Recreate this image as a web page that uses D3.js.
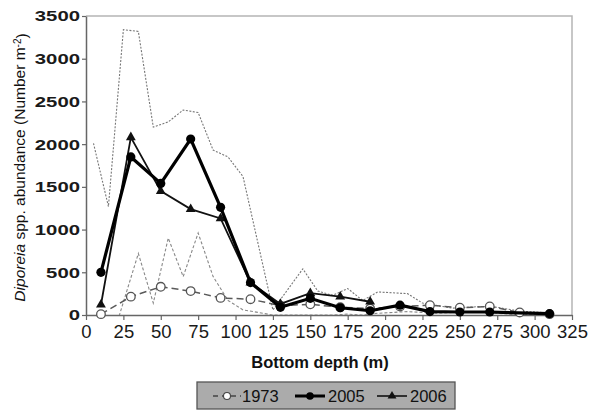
<!DOCTYPE html>
<html>
<head>
<meta charset="utf-8">
<script src="https://cdn.jsdelivr.net/npm/d3@7/dist/d3.min.js"></script>
<style>
  html, body { margin: 0; padding: 0; background: #fff; }
  svg { display: block; font-family: "Liberation Sans", Arial, sans-serif; }
</style>
</head>
<body>
<svg id="chart" width="597" height="411"></svg>
<script>
// Diporeia spp. abundance by bottom depth
const depths1973 = [10, 30, 50, 70, 90, 110, 130, 150, 170, 190, 210, 230, 250, 270, 290, 310];
const values1973 = [10, 215, 330, 280, 200, 185, 110, 125, 90, 75, 100, 115, 85, 100, 30, 10];

const depths2005 = [10, 30, 50, 70, 90, 110, 130, 150, 170, 190, 210, 230, 250, 270, 310];
const values2005 = [500, 1850, 1540, 2060, 1260, 380, 90, 195, 85, 50, 115, 40, 35, 35, 15];

const depths2006 = [10, 30, 50, 70, 90, 110, 130, 150, 170, 190];
const values2006 = [120, 2080, 1450, 1240, 1130, 380, 130, 255, 215, 155];

// Confidence envelope (upper and lower bounds)
const boundDepths = [5, 15, 25, 35, 45, 55, 65, 75, 85, 95, 105, 115, 125, 135, 145, 155, 165, 175, 185, 195, 205, 215, 225, 235, 245, 255, 265, 275, 285, 295, 305];
const upperBound = [2010, 1270, 3340, 3320, 2200, 2260, 2400, 2370, 1930, 1850, 1620, 840, 60, 300, 540, 280, 230, 310, 170, 270, 260, 250, 140, 110, 80, 90, 100, 90, 60, 40, 30];
const lowerBound = [-1500, -420, 150, 720, 140, 900, 450, 960, 450, 170, 60, 30, 0, 0, 0, 0, 0, 10, 0, 20, 30, 40, 30, 20, 30, 40, 30, 20, 10, 5, 0];

const xTicks = [0, 25, 50, 75, 100, 125, 150, 175, 200, 225, 250, 275, 300, 325];
const yTicks = [0, 500, 1000, 1500, 2000, 2500, 3000, 3500];
const legendLabels = ["1973", "2005", "2006"];

const svg = d3.select("#chart");
const plotL = 86, plotR = 572, plotT = 16, plotB = 315;

const x = d3.scaleLinear().domain([0, 325]).range([plotL, plotR]);
const y = d3.scaleLinear().domain([0, 3500]).range([plotB, plotT]);

svg.append("defs").append("clipPath").attr("id", "plot-clip")
  .append("rect").attr("x", plotL).attr("y", plotT).attr("width", plotR - plotL).attr("height", plotB - plotT);

// frame (top and right)
svg.append("path")
  .attr("d", `M${plotL},${plotT}H${plotR}V${plotB}`)
  .attr("fill", "none").attr("stroke", "#b5b5b5").attr("stroke-width", 1.5);

// axes
const xAxis = svg.append("g").attr("transform", `translate(0,${plotB})`)
  .call(d3.axisBottom(x).tickValues(xTicks).tickFormat(d3.format("d"))
    .tickSizeInner(5).tickSizeOuter(0).tickPadding(4));
const yAxis = svg.append("g").attr("transform", `translate(${plotL},0)`)
  .call(d3.axisLeft(y).tickValues(yTicks).tickFormat(d3.format("d"))
    .tickSizeInner(4).tickSizeOuter(0).tickPadding(2));
[xAxis, yAxis].forEach(g => {
  g.select(".domain").attr("stroke", "#666").attr("stroke-width", 1.5);
  g.selectAll(".tick line").attr("stroke", "#666").attr("stroke-width", 1.2);
  g.selectAll(".tick text").attr("fill", "#1a1a1a")
    .style("font-family", "'Liberation Sans', Arial, sans-serif");
});
xAxis.selectAll(".tick text").style("font-size", "18.5px").attr("dy", "0.78em");
// y labels: bold, wide digits
yAxis.selectAll(".tick text").style("font-size", "15.5px").style("font-weight", "bold")
  .attr("textLength", d => String(d).length * 11.3).attr("lengthAdjust", "spacingAndGlyphs");

const plot = svg.append("g").attr("clip-path", "url(#plot-clip)");
const line = d3.line().x(d => x(d[0])).y(d => y(d[1]));

// envelope lines
plot.append("path").datum(d3.zip(boundDepths, upperBound)).attr("d", line)
  .attr("fill", "none").attr("stroke", "#777").attr("stroke-width", 1.1).attr("stroke-dasharray", "2,1.5");
plot.append("path").datum(d3.zip(boundDepths, lowerBound)).attr("d", line)
  .attr("fill", "none").attr("stroke", "#888").attr("stroke-width", 1.1).attr("stroke-dasharray", "3,2");

// 1973
const d1973 = d3.zip(depths1973, values1973);
svg.append("path").datum(d1973).attr("d", line)
  .attr("fill", "none").attr("stroke", "#5a5a5a").attr("stroke-width", 1.5).attr("stroke-dasharray", "7,4");
svg.selectAll(".m1973").data(d1973).join("circle").attr("class", "m1973")
  .attr("cx", d => x(d[0])).attr("cy", d => y(d[1])).attr("r", 4.3)
  .attr("fill", "#fff").attr("stroke", "#555").attr("stroke-width", 1.3);

// 2006
const d2006 = d3.zip(depths2006, values2006);
const tri = d3.symbol().type(d3.symbolTriangle).size(42);
svg.append("path").datum(d2006).attr("d", line)
  .attr("fill", "none").attr("stroke", "#111").attr("stroke-width", 1.8);
svg.selectAll(".m2006").data(d2006).join("path").attr("class", "m2006")
  .attr("transform", d => `translate(${x(d[0])},${y(d[1])})`).attr("d", tri).attr("fill", "#111");

// 2005
const d2005 = d3.zip(depths2005, values2005);
svg.append("path").datum(d2005).attr("d", line)
  .attr("fill", "none").attr("stroke", "#000").attr("stroke-width", 3.2);
svg.selectAll(".m2005").data(d2005).join("circle").attr("class", "m2005")
  .attr("cx", d => x(d[0])).attr("cy", d => y(d[1])).attr("r", 4.6).attr("fill", "#000");

// axis titles
svg.append("text").attr("x", 320).attr("y", 367.5).attr("text-anchor", "middle")
  .style("font-size", "16.5px").style("font-weight", "bold").attr("fill", "#111").text("Bottom depth (m)");

const yt = svg.append("text").attr("transform", `translate(25,${(plotT + plotB) / 2 + 2}) rotate(-90)`)
  .attr("text-anchor", "middle").style("font-size", "15.5px").attr("fill", "#111");
yt.append("tspan").style("font-style", "italic").text("Diporeia");
yt.append("tspan").text(" spp. abundance (Number m");
yt.append("tspan").attr("dy", "-0.45em").style("font-size", "10px").text("-2");
yt.append("tspan").attr("dy", "0.45em").text(")");

// legend
const lg = svg.append("g");
lg.append("rect").attr("x", 197).attr("y", 382).attr("width", 258).attr("height", 27)
  .attr("fill", "#ababab").attr("stroke", "#555").attr("stroke-width", 1.3);
const lgX = [213, 295, 377];
const lgY = 396;
// 1973 key
lg.append("line").attr("x1", lgX[0]).attr("x2", lgX[0] + 28).attr("y1", lgY).attr("y2", lgY)
  .attr("stroke", "#444").attr("stroke-width", 1.4).attr("stroke-dasharray", "5,4");
lg.append("circle").attr("cx", lgX[0] + 14).attr("cy", lgY).attr("r", 3.5)
  .attr("fill", "#fff").attr("stroke", "#444").attr("stroke-width", 1.1);
// 2005 key
lg.append("line").attr("x1", lgX[1]).attr("x2", lgX[1] + 30).attr("y1", lgY).attr("y2", lgY)
  .attr("stroke", "#000").attr("stroke-width", 3);
lg.append("circle").attr("cx", lgX[1] + 15).attr("cy", lgY).attr("r", 3.8).attr("fill", "#000");
// 2006 key
lg.append("line").attr("x1", lgX[2]).attr("x2", lgX[2] + 30).attr("y1", lgY).attr("y2", lgY)
  .attr("stroke", "#111").attr("stroke-width", 1.6);
lg.append("path").attr("transform", `translate(${lgX[2] + 15},${lgY})`)
  .attr("d", d3.symbol().type(d3.symbolTriangle).size(34)).attr("fill", "#111");
legendLabels.forEach((t, i) => {
  lg.append("text").attr("x", [242, 328, 410][i]).attr("y", lgY).attr("dy", "0.36em")
    .style("font-size", "16.5px").attr("fill", "#111").text(t);
});
</script>
</body>
</html>
